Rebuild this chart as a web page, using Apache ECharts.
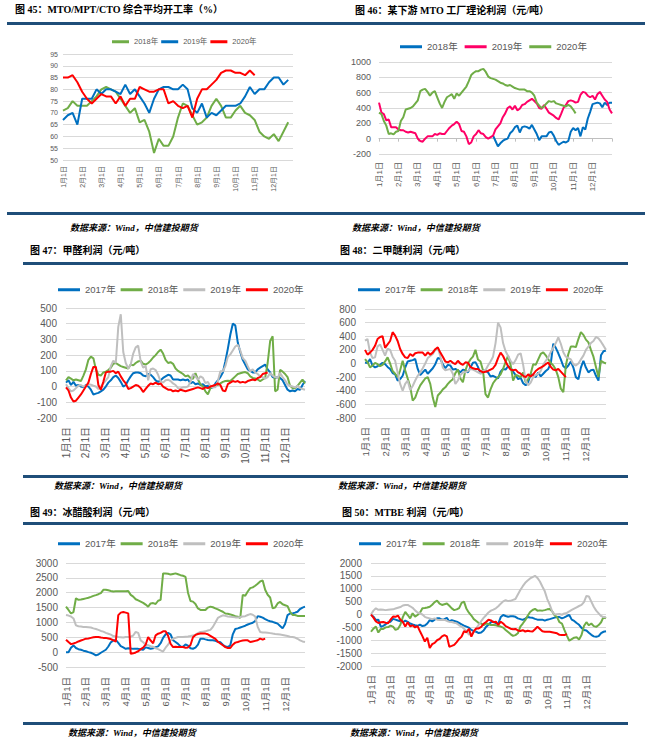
<!DOCTYPE html>
<html>
<head>
<meta charset="utf-8">
<script src="https://cdn.jsdelivr.net/npm/echarts/dist/echarts.min.js"></script>
<style>
  html, body { margin: 0; padding: 0; background: #fff; }
  body { width: 654px; height: 749px; position: relative; overflow: hidden; }
  .title { position: absolute; font-family: "Liberation Serif", "Noto Sans CJK SC", serif; font-weight: bold; font-size: 10px; line-height: 12px; color: #000; white-space: nowrap; }
  .rule { position: absolute; height: 3px; background: #1f4e79; }
  .src { position: absolute; font-family: "Liberation Serif", "Noto Sans CJK SC", serif; font-weight: bold; font-style: italic; font-size: 9px; line-height: 12px; color: #000; white-space: nowrap; }
  .chart { position: absolute; }
</style>
</head>
<body>
<div class="title" style="left:15px;top:4px">图 45：MTO/MPT/CTO 综合平均开工率（%）</div>
<div class="title" style="left:355px;top:5px">图 46：某下游 MTO 工厂理论利润（元/吨）</div>
<div class="title" style="left:30px;top:245px">图 47：甲醛利润（元/吨）</div>
<div class="title" style="left:340px;top:245px">图 48：二甲醚利润（元/吨）</div>
<div class="title" style="left:30px;top:507px">图 49：冰醋酸利润（元/吨）</div>
<div class="title" style="left:342px;top:507px">图 50：MTBE 利润（元/吨）</div>

<div class="rule" style="left:7px;width:638px;top:22px"></div>
<div class="rule" style="left:7px;width:638px;top:212px"></div>
<div class="rule" style="left:23px;width:605px;top:262px"></div>
<div class="rule" style="left:23px;width:605px;top:475px"></div>
<div class="rule" style="left:23px;width:605px;top:522px"></div>
<div class="rule" style="left:23px;width:605px;top:722px"></div>

<div class="src" style="left:70px;top:222px">数据来源：Wind，中信建投期货</div>
<div class="src" style="left:352px;top:222px">数据来源：Wind，中信建投期货</div>
<div class="src" style="left:54px;top:480px">数据来源：Wind，中信建投期货</div>
<div class="src" style="left:338px;top:480px">数据来源：Wind，中信建投期货</div>
<div class="src" style="left:68px;top:727px">数据来源：Wind，中信建投期货</div>
<div class="src" style="left:350px;top:727px">数据来源：Wind，中信建投期货</div>

<div id="c45" class="chart" style="left:0px;top:25px;width:325px;height:185px"></div>
<div id="c46" class="chart" style="left:325px;top:25px;width:329px;height:185px"></div>
<div id="c47" class="chart" style="left:0px;top:265px;width:325px;height:205px"></div>
<div id="c48" class="chart" style="left:325px;top:265px;width:329px;height:205px"></div>
<div id="c49" class="chart" style="left:0px;top:525px;width:325px;height:195px"></div>
<div id="c50" class="chart" style="left:325px;top:525px;width:329px;height:195px"></div>

<script>
// ---------- tick labels ----------
const monthLabels = ['1月1日','2月1日','3月1日','4月1日','5月1日','6月1日','7月1日','8月1日','9月1日','10月1日','11月1日','12月1日'];

// ---------- 图45 MTO/MPT/CTO 综合平均开工率 (%) — ~weekly, 4 points per month ----------
const rate2018 = [71,72,75,73,73,73,75,77,80,81, 80,79,76,73,70,72,66,67,62,53, 59,56,56,60,68,74,73,69,65,66, 68,73,76,73,68,68,71,73,70,69, 67,62,60,59,61,58,62,66];
const rate2019 = [67,69,70,65,76,76,76,80,78,80, 80,79,78,82,78,80,77,74,70,76, 80,81,81,80,80,82,80,72,70,74, 68,70,69,71,73,73,73,74,77,81, 78,80,80,83,85,85,82,84];
const rate2020 = [85,85,86,83,79,76,74,76,78,77, 77,74,77,73,76,76,81,80,79,79, 80,80,74,75,73,72,73,68,76,80, 80,82,84,87,88,88,87,87,86,88, 86];

// ---------- 图46 某下游MTO工厂理论利润 (元/吨) — 8 points per month ----------
const mto2018Start = 47;
const mto2018 = [40,-30,-100,-60,-30,-10,0,70,100,150, 170,80,150,160,150,130,180,120,60,-20, 30,30,30,80,90,40,-30,-80,-60,-40, -50,-30,90,140,110,140,30,150,120,260, 350,450,460,470,460,410,470,440,470,470];
const mto2019 = [470,340,320,240,250,150,150,150,120,110, 110,90,80,90,80,70,0,-30,-40,0, 30,30,30,60,50,70,60,60,100,140, 170,190,220,190,100,90,30,-70,-50,30, 60,110,70,60,20,0,20,40,120,160, 200,280,330,400,420,380,430,370,390,440, 450,480,500,520,490,460,400,390,440,390, 340,320,300,270,250,320,400,440,490,500, 490,470,480,570,610,600,560,540,560,510, 580,610,560,510,480,380,330];
const mto2020 = [339,320,230,170,60,70,55,90,100,230, 280,380,390,400,420,460,500,620,640,650, 610,560,600,620,540,460,400,480,540,560, 580,520,590,560,600,640,680,750,830,860, 880,880,900,910,870,810,790,780,770,750, 730,720,700,690,700,680,660,650,640,640, 640,620,620,600,560,470,430,400,420,460, 490,480,490,460,450,440,430,420,440,420, 380,330];

// ---------- 图47 甲醛利润 (元/吨) ----------
const hcho2017 = [25,40,10,30,5,10,0,-5,10,0, -20,-50,-45,-40,-30,-20,0,25,40,60, 70,55,30,0,10,40,65,85,90,90, 85,70,65,80,75,60,40,30,40,55, 65,75,70,45,45,45,40,45,40,45, 20,30,15,20,10,15,0,5,-10,-5, 20,40,60,90,160,240,330,400,390,280, 220,170,140,110,100,90,90,110,120,130, 140,110,90,60,55,60,55,40,10,-20, -30,-25,-30,-15,-20,10,35];
const hcho2018 = [40,60,50,40,45,40,35,70,110,170, 190,180,110,75,70,90,95,105,120,145, 150,140,130,125,120,115,140,135,150,160, 165,145,140,150,165,185,200,220,235,210, 170,150,155,145,115,100,90,80,65,70, 55,50,85,45,15,0,-30,-50,-10,0, 10,10,20,30,35,37,35,50,65,80, 85,90,92,85,65,55,52,45,35,45, 55,150,290,320,-30,-20,107,95,80,60, 5,-10,-10,5,25,45,20];
const hcho2019 = [15,-10,-30,-25,-10,5,10,0,5,15, 12,5,0,-15,0,20,40,60,130,165, 150,380,460,220,150,115,140,210,250,260, 160,120,130,40,110,115,105,75,33,25, 40,44,35,20,10,-10,-12,-5,-5,0, 30,80,65,44,65,55,22,30,0,-5, -5,35,97,97,130,190,205,230,255,265, 230,180,165,130,97,110,90,80,65,60, 50,60,86,70,60,55,86,60,40,12, 5,0,-5,5,-10,-15,-20];
const hcho2020 = [-5,-25,-70,-95,-90,-70,-50,-25,0,25, 80,125,125,10,-20,30,90,95,95,100, 85,95,65,40,20,-15,-10,0,10,5, -10,-35,-15,5,20,15,25,15,20,0, -10,-20,-20,-30,-25,-30,-20,-25,-30,-25, -20,-15,-10,-5,-10,-15,-5,-10,0,5, 10,20,10,-25,-30,15,25,35,30,35, 25,30,25,35,40,45,40,55,60,80, 85,90];

// ---------- 图48 二甲醚利润 (元/吨) ----------
const dme2017 = [15,5,66,-30,-56,-40,-20,10,-10,-50, -81,-140,-160,-250,-230,-180,-60,30,40,50, 66,-80,-170,-130,-90,-150,-110,-70,-10,80, 70,-10,-70,-20,-30,-90,-80,-100,-130,-90, -100,-130,-60,10,20,-50,-150,-100,-110,-130, -190,-180,-200,-220,-120,-80,-90,-40,-60,-120, -170,-230,-210,-290,-320,-270,-160,-170,-200,-130, -190,-150,-110,-80,0,290,230,150,60,-40, -70,-30,30,-60,-200,-230,-60,40,-60,-130, -100,-90,-180,-250,120,180,190];
const dme2018 = [66,20,-56,-30,10,-10,-40,-20,30,90, 0,-110,-150,-200,-100,40,-100,-220,-340,-545, -500,-400,-320,-270,-220,-200,-300,-500,-640,-470, -430,-380,-350,-300,-260,-230,-140,-90,-220,-276, -100,0,60,100,200,60,30,-100,-450,-500, -380,-290,-240,-200,-160,-80,20,115,-20,-250, -170,-180,-200,-130,-276,-230,-150,-10,-20,60, 140,164,120,60,10,-30,-90,-200,-370,-420, -30,140,250,250,240,359,460,420,350,310, 200,100,-50,-200,40,17,0];
const dme2019 = [335,359,164,80,90,250,280,200,115,220, 200,100,40,-130,-300,-400,-300,-250,-390,-330, -250,-180,-130,-70,0,80,110,140,200,230, 110,-60,-100,-90,-81,-150,-301,-250,-170,-130, -130,-110,-81,-90,-110,-130,-150,-110,-100,-30, 30,100,300,600,530,300,180,110,40,-10, 50,130,150,-20,-250,-320,-280,-200,-170,-150, -110,-20,40,90,170,230,300,384,290,164, 100,80,60,-10,-30,0,60,115,200,250, 300,330,390,370,320,262,200];
const dme2020 = [200,130,160,200,260,360,390,400,230,280, 330,460,410,330,213,140,90,80,139,110, 150,160,160,160,115,164,130,160,210,237, 160,100,30,17,40,10,-10,40,0,-20, 17,10,-50,-70,-80,-80,-110,-130,-120,-110, -90,-70,-20,80,160,110,30,-40,-90,-100, -90,-130,-150,-180,-200,-160,-190,-160,-110,-80, -60,-40,-10,15,-50,-90,-100,-80,-120,-160, -200];

// ---------- 图49 冰醋酸利润 (元/吨) ----------
const acid2017 = [0,0,150,227,140,100,80,50,30,0, -20,-60,-110,-80,-20,30,80,190,330,390, 410,310,200,160,113,130,120,110,110,110, 100,80,160,140,113,130,170,193,300,480, 600,646,600,400,340,280,193,180,260,220, 130,113,150,250,454,454,430,410,397,397, 380,350,330,250,190,170,230,600,780,800, 830,860,890,930,960,990,1050,1213,1190,1160, 1110,1070,1040,1020,990,960,880,800,950,1247, 1300,1304,1330,1361,1450,1500,1531];
const acid2018 = [1531,1420,1300,1350,1814,1760,1770,1790,1810,1830, 1860,1894,1920,1950,1985,2098,2098,2080,2060,2041, 2050,2050,2050,2050,2050,2060,1928,1870,1780,1740, 1700,1660,1600,1531,1640,1650,1620,1730,1758,2650, 2650,2640,2610,2630,2650,2620,2590,2570,2530,2000, 1720,1700,1620,1470,1420,1420,1420,1500,1531,1510, 1474,1440,1400,1360,1300,1290,1270,1240,1210,1191, 1150,1928,1900,2040,2155,2180,2234,2300,2380,2415, 2100,1930,1840,1480,1500,1640,1690,1610,1580,1550, 1360,1250,1250,1220,1213,1213,1213];
const acid2019 = [1247,1230,1200,1134,900,870,860,850,850,840, 828,800,780,750,714,690,650,620,590,540, 530,510,500,490,510,510,520,560,680,650, 397,330,250,230,200,180,130,100,57,20, 150,250,400,450,480,510,510,510,520,530, 540,560,580,640,680,690,700,730,750,850, 1000,1150,1200,1240,1220,1200,1191,1180,1170,1170, 1180,1200,1210,1250,1281,1260,1200,850,680,660, 660,650,640,624,610,600,590,580,560,540, 520,510,490,450,397,360,340];
const acid2020 = [420,340,270,290,320,360,390,420,454,460, 480,500,510,510,490,480,480,460,440,400, 350,1247,1330,1350,1330,1304,-57,-40,-10,30, 100,150,250,510,390,300,567,620,650,700, 700,550,283,170,180,170,170,170,150,160, 240,500,580,610,624,624,624,600,550,500, 450,350,290,230,170,140,140,250,320,340, 370,390,397,397,340,360,380,400,454,420, 454];

// ---------- 图50 MTBE利润 (元/吨) ----------
const mtbe2017 = [-20,-80,-215,-200,-475,-440,-380,-300,-280,-170, -200,-230,-260,-300,-240,-290,-350,-390,-420,-440, -390,-450,-430,-350,-220,-270,-200,-150,-150,-200, -180,-130,-270,-220,-250,-280,-330,-380,-430,-470, -510,-600,-650,-670,-720,-700,-620,-480,-400,-300, -280,-340,-350,-100,-20,-60,-90,-70,-70,-90, -150,-180,-210,-160,-100,-120,-130,-170,-200,-200, -200,-240,-200,-180,-150,-120,-100,-100,-150,-110, -60,-20,-200,-250,-330,-400,-520,-600,-620,-710, -790,-850,-866,-840,-720,-670,-650];
const mtbe2018 = [-670,-550,-470,-700,-560,-560,-500,-490,-430,-470, -600,-560,-400,-100,100,-20,-150,50,-85,-20, 72,241,250,270,300,380,480,540,420,370, 400,430,340,240,170,200,250,450,500,220, 70,-40,-180,-250,-330,-350,-410,-350,-370,-410, -410,-420,-450,-470,-510,-600,-680,-760,-830,-800, -730,-470,-350,-220,-50,100,176,220,150,160, 150,170,200,215,130,-30,-100,-300,-350,-600, -820,-1020,-960,-900,-880,-970,-800,-450,-300,-420, -350,-450,-480,-410,-300,-90,-150];
const mtbe2019 = [0,150,241,180,190,180,170,180,190,200, 230,260,290,350,371,371,320,260,160,80, 46,0,-90,-130,-150,-180,-150,-200,-215,-200, -210,-250,-280,-290,-320,-345,-420,-470,-550,-640, -780,-770,-680,-540,-400,-260,-130,-30,80,150, 190,240,320,420,510,560,520,530,566,600, 780,950,1100,1230,1320,1400,1452,1504,1420,1283, 1087,900,600,380,120,0,10,20,-10,40, 60,120,176,230,280,330,371,480,722,700, 500,300,150,46,-60,-100,-110];
const mtbe2020 = [0,-120,-270,-330,-300,-290,-320,-340,-200,-80, -90,-40,-200,-280,-470,-300,-460,-420,-500,-450, -650,-840,-1050,-900,-1300,-1150,-1100,-1000,-950,-850, -800,-850,-1250,-1220,-1180,-1070,-950,-860,-650,-690, -560,-860,-650,-540,-540,-480,-360,-290,-200,-230, -300,-280,-400,-280,-350,-450,-500,-550,-570,-560, -620,-640,-610,-660,-630,-650,-660,-570,-475,-560, -650,-670,-670,-670,-690,-710,-730,-790,-800,-800, -760];

// ---------- helpers ----------
const FONT = '"Liberation Sans","Noto Sans CJK SC",sans-serif';
const LABEL = '#595959';
const GRIDC = '#D9D9D9';
const C = { blue: '#0070C0', green: '#70AD47', red: '#FF0000', gray: '#BFBFBF', pink: '#FF0066' };

function buildCats(perMonth) {
  const cats = [];
  monthLabels.forEach(function (m) {
    cats.push(m);
    for (let k = 1; k < perMonth; k++) cats.push('');
  });
  cats.push('');
  return cats;
}
function padStart(start, values) {
  return new Array(start).fill(null).concat(values);
}

function lineChart(id, cfg) {
  const chart = echarts.init(document.getElementById(id), null, { renderer: 'svg' });
  const cats = buildCats(cfg.perMonth);
  const xAxes = [{
    type: 'category', data: cats, boundaryGap: false, position: 'bottom',
    axisLine: { show: false, onZero: false }, axisTick: { show: false },
    axisLabel: { interval: 0, rotate: 90, fontSize: cfg.xFont, color: LABEL, margin: cfg.xMargin, fontFamily: FONT, hideOverlap: false },
    splitLine: { show: false }
  }];
  if (cfg.zeroTicks) {
    xAxes.push({
      type: 'category', data: cats, boundaryGap: false, position: 'bottom',
      axisLine: { show: true, onZero: true, lineStyle: { color: '#BFBFBF', width: 1 } },
      axisTick: { show: true, length: 3, interval: function (i) { return i % cfg.perMonth === 0; }, lineStyle: { color: '#BFBFBF' } },
      axisLabel: { show: false }, splitLine: { show: false }
    });
  }
  chart.setOption({
    animation: false,
    grid: { left: cfg.grid[0], top: cfg.grid[1], width: cfg.grid[2], height: cfg.grid[3], containLabel: false, outerBoundsMode: 'none' },
    legend: {
      left: cfg.legend[0], top: cfg.legend[1], width: 400, icon: 'rect',
      itemWidth: cfg.legendItemW, itemHeight: 3, itemGap: cfg.legendGap,
      textStyle: { fontSize: cfg.legendFont, color: LABEL, fontFamily: FONT },
      data: cfg.series.map(function (s) { return s.name; })
    },
    xAxis: xAxes,
    yAxis: {
      type: 'value', min: cfg.y[0], max: cfg.y[1], interval: cfg.y[2],
      axisLine: { show: false }, axisTick: { show: false },
      axisLabel: { fontSize: cfg.yFont, color: LABEL, margin: cfg.yMargin, fontFamily: FONT,
                   formatter: function (v) { return String(v); } },
      splitLine: { show: true, lineStyle: { color: GRIDC, width: 1 } }
    },
    series: cfg.series.map(function (s) {
      return {
        name: s.name, type: 'line', data: s.data, xAxisIndex: 0,
        showSymbol: false, symbol: 'none', connectNulls: false,
        lineStyle: { width: 2, color: s.color }, itemStyle: { color: s.color }
      };
    })
  });
}

lineChart('c45', {
  perMonth: 4, grid: [63, 29, 230, 106], y: [50, 95, 5],
  legend: [107, 8], legendItemW: 17, legendGap: 3, legendFont: 7.5,
  xFont: 7, xMargin: 6, yFont: 7, yMargin: 5,
  series: [
    { name: '2018年', data: rate2018, color: C.green },
    { name: '2019年', data: rate2019, color: C.blue },
    { name: '2020年', data: rate2020, color: C.red }
  ]
});

lineChart('c46', {
  perMonth: 8, grid: [54, 37, 233, 92], y: [-200, 1000, 200], zeroTicks: true,
  legend: [70, 12], legendItemW: 22, legendGap: 7, legendFont: 9.5,
  xFont: 8, xMargin: 8, yFont: 9, yMargin: 8,
  series: [
    { name: '2018年', data: padStart(mto2018Start, mto2018), color: C.blue },
    { name: '2019年', data: mto2019, color: C.pink },
    { name: '2020年', data: mto2020, color: C.green }
  ]
});

lineChart('c47', {
  perMonth: 8, grid: [66, 43, 239, 110], y: [-200, 500, 100],
  legend: [53, 15], legendItemW: 22, legendGap: 5, legendFont: 9.5,
  xFont: 10, xMargin: 9, yFont: 10, yMargin: 9,
  series: [
    { name: '2017年', data: hcho2017, color: C.blue },
    { name: '2018年', data: hcho2018, color: C.green },
    { name: '2019年', data: hcho2019, color: C.gray },
    { name: '2020年', data: hcho2020, color: C.red }
  ]
});

lineChart('c48', {
  perMonth: 8, grid: [40, 44, 241, 109], y: [-800, 800, 200],
  legend: [28, 15], legendItemW: 22, legendGap: 5, legendFont: 9.5,
  xFont: 9.5, xMargin: 9, yFont: 10, yMargin: 9,
  series: [
    { name: '2017年', data: dme2017, color: C.blue },
    { name: '2018年', data: dme2018, color: C.green },
    { name: '2019年', data: dme2019, color: C.gray },
    { name: '2020年', data: dme2020, color: C.red }
  ]
});

lineChart('c49', {
  perMonth: 8, grid: [66, 38, 239, 104], y: [-500, 3000, 500],
  legend: [53, 9], legendItemW: 22, legendGap: 5, legendFont: 9.5,
  xFont: 9.5, xMargin: 10, yFont: 10, yMargin: 8,
  series: [
    { name: '2017年', data: acid2017, color: C.blue },
    { name: '2018年', data: acid2018, color: C.green },
    { name: '2019年', data: acid2019, color: C.gray },
    { name: '2020年', data: acid2020, color: C.red }
  ]
});

lineChart('c50', {
  perMonth: 8, grid: [46, 38, 235, 103], y: [-2000, 2000, 500],
  legend: [29, 9], legendItemW: 22, legendGap: 6, legendFont: 9.5,
  xFont: 9.5, xMargin: 9, yFont: 10, yMargin: 9,
  series: [
    { name: '2017年', data: mtbe2017, color: C.blue },
    { name: '2018年', data: mtbe2018, color: C.green },
    { name: '2019年', data: mtbe2019, color: C.gray },
    { name: '2020年', data: mtbe2020, color: C.red }
  ]
});
</script>
</body>
</html>
